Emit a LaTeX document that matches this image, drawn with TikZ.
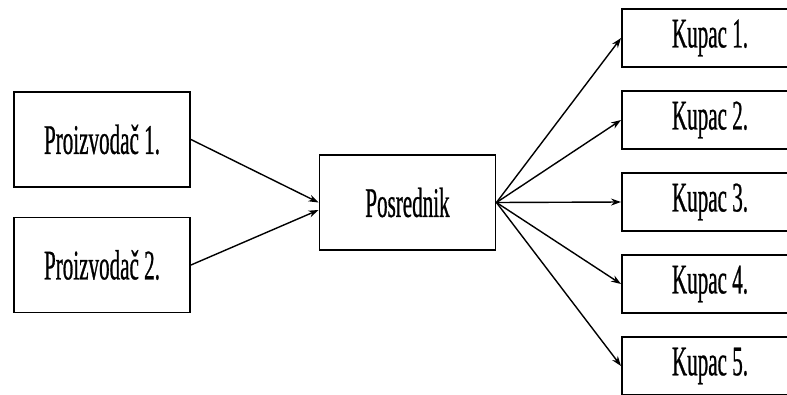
\documentclass[tikz,border=0pt]{standalone}
\usepackage{fontspec}
\setmainfont[FakeStretch=0.5,FakeBold=0.6]{Liberation Serif}
\usetikzlibrary{arrows.meta}

\tikzset{
  kutija/.style={draw, line width=1.1pt, minimum width=35.2mm, inner sep=0pt,
    font=\fontsize{24}{28}\selectfont},
  veza/.style={-{Stealth[length=2mm,width=1.4mm]}, line width=0.8pt}
}

\begin{document}
\begin{tikzpicture}[x=0.2mm,y=-0.2mm]

        \useasboundingbox (0,0) rectangle (787,394);
        \clip (0,0) rectangle (787,394);

        \node[kutija, minimum height=19mm] (p1) at (102,139.5) {Proizvodač 1.};
        \node[kutija, minimum height=19mm] (p2) at (102,265) {Proizvodač 2.};
        \node[kutija, minimum height=19mm] (posr) at (407.5,202.5) {Posrednik};

        \foreach \i/\y in {1/38,2/120,3/202,4/284,5/366}
            \node[kutija, minimum height=11.6mm] (k\i) at (710,\y) {Kupac \i.};

        \draw[veza] (p1.east) -- (posr.west);
        \draw[veza] (p2.east) -- ([yshift=-1.5mm]posr.west);
        \foreach \i in {1,...,5}
            \draw[veza] (posr.east) -- (k\i.west);
    \end{tikzpicture}
\end{document}
